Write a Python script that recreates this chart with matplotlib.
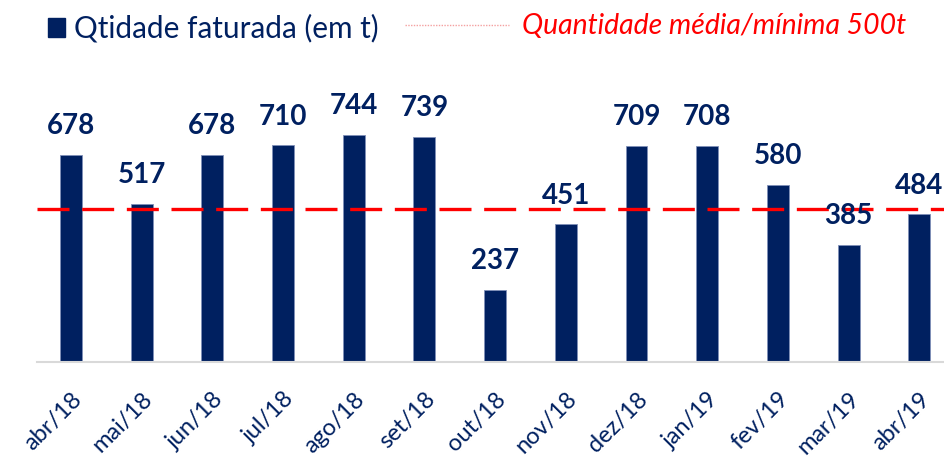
import matplotlib.pyplot as plt
from matplotlib.lines import Line2D
from matplotlib.patches import Rectangle

months = ["abr/18", "mai/18", "jun/18", "jul/18", "ago/18", "set/18", "out/18",
          "nov/18", "dez/18", "jan/19", "fev/19", "mar/19", "abr/19"]
qtd = [678, 517, 678, 710, 744, 739, 237, 451, 709, 708, 580, 385, 484]
media = 500

navy = "#002060"
plt.rcParams['font.family'] = ['Lato', 'DejaVu Sans']

fig = plt.figure(figsize=(9.44, 4.65), dpi=100)
ax = fig.add_axes([37 / 944, 103 / 465, 1 - 37 / 944, 302 / 465])

x = list(range(len(months)))
ax.bar(x, qtd, width=0.31, color=navy, edgecolor="#8090b8", linewidth=0.6, zorder=2)
ax.axhline(media, color="red", lw=2.4, dashes=(9.6, 3.8), zorder=3)

for xi, v in zip(x, qtd):
    ax.annotate(str(v), (xi, v), xytext=(0, 15), textcoords="offset points",
                ha="center", va="baseline", fontsize=20, fontweight="bold",
                color=navy, zorder=4)

ax.set_xlim(-0.48, 12.35)
ax.set_ylim(0, 990)
ax.set_xticks(x)
ax.set_xticklabels(months, rotation=45, ha="right", va="top",
                   rotation_mode="anchor", fontsize=17, color=navy)
ax.tick_params(axis="x", length=0, pad=19)
ax.set_yticks([])
for s in ["top", "right", "left"]:
    ax.spines[s].set_visible(False)
ax.spines["bottom"].set_color("#d9d9d9")
ax.spines["bottom"].set_linewidth(1.5)

# legend
fig.patches.append(Rectangle((48 / 944, 1 - 37 / 465), 17 / 944, 19 / 465,
                             transform=fig.transFigure, color=navy))
fig.text(74 / 944, 1 - 28 / 465, "Qtidade faturada (em t)", fontsize=21.4,
         color=navy, va="center", ha="left")
fig.lines.append(Line2D([405 / 944, 509 / 944], [1 - 25 / 465, 1 - 25 / 465],
                        transform=fig.transFigure, color="#f4a0a0", lw=1,
                        linestyle=(0, (1, 1))))
fig.text(522 / 944, 1 - 26 / 465, "Quantidade média/mínima 500t", fontsize=20.4,
         color="red", style="italic", va="center", ha="left")

fig.savefig("out.png", dpi=100)
